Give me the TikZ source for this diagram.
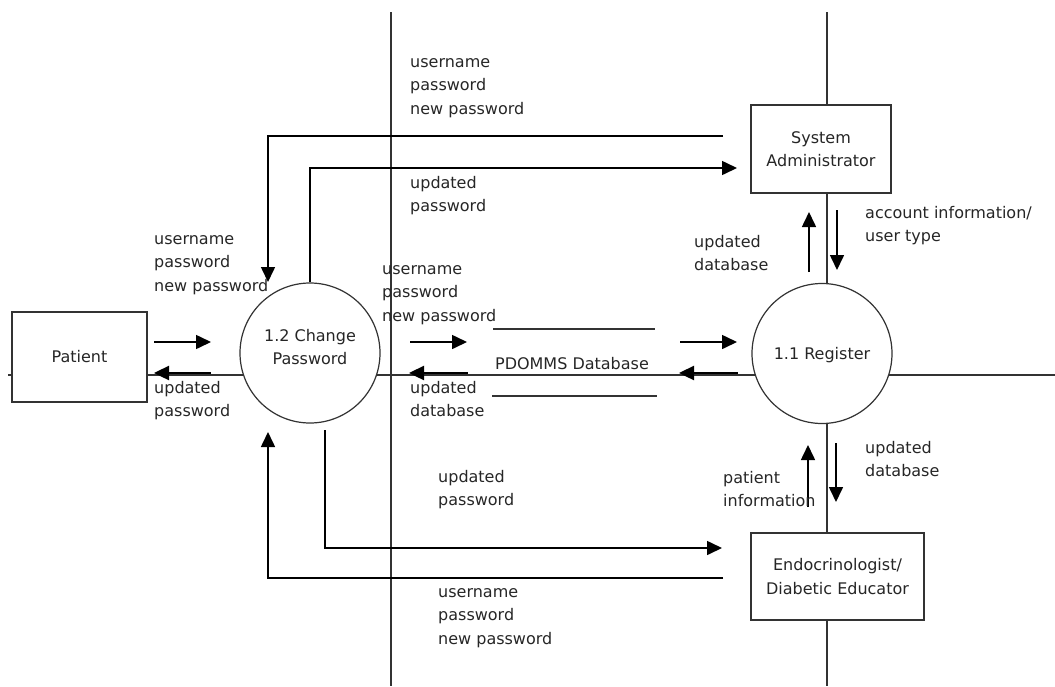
\documentclass[tikz,border=0pt]{standalone}
\usepackage{fontspec}
\setmainfont{DejaVu Sans}
\usetikzlibrary{arrows.meta}
\tikzset{
  frame/.style={line width=1.4pt, draw=black!80},
  ent/.style={draw=black!80, line width=1.4pt, fill=white, rectangle, align=center, inner sep=0pt,
              font=\fontsize{16}{23.5}\selectfont, text=black!85},
  proc/.style={draw=black!80, line width=1.2pt, fill=white, circle, minimum size=140pt, inner sep=0pt},
  lab/.style={font=\fontsize{16}{23.5}\selectfont, align=left, inner sep=0pt, anchor=north west,
              text=black!85, execute at begin node=\strut},
  txt/.style={font=\fontsize{16}{23.5}\selectfont, align=center, inner sep=0pt, text=black!85},
  flow/.style={line width=1.6pt, draw=black, -{Triangle[length=15pt,width=14pt]}},
  flowb/.style={line width=2.4pt, draw=black, -{Triangle[length=15pt,width=14pt]}},
}
\begin{document}
\begin{tikzpicture}[x=1pt,y=-1pt]
\useasboundingbox (0,0) rectangle (1055,686);
% background frame lines
\draw[frame] (391,12) -- (391,686);
\draw[frame] (827,12) -- (827,686);
\draw[frame] (8,375) -- (1055,375);

% nodes
\node[ent, minimum width=135pt, minimum height=90pt] (pat) at (79.5,357) {Patient};
\node[ent, minimum width=140pt, minimum height=88pt] (sa) at (821,149) {System\\Administrator};
\node[ent, minimum width=173pt, minimum height=87pt] (ed) at (837.5,576.5) {Endocrinologist/\\Diabetic Educator};
\node[proc] (cp) at (310,353) {};
\node[txt] (cpt) at (310,347) {1.2 Change\\Password};
\node[proc] (reg) at (822,353.5) {};
\node[txt] (regt) at (822,355) {1.1 Register};

% data store
\coordinate (ds1a) at (493,329); \coordinate (ds1b) at (655,329);
\coordinate (ds2a) at (492,396); \coordinate (ds2b) at (657,396);
\draw[frame] (ds1a) -- (ds1b);
\draw[frame] (ds2a) -- (ds2b);
\node[txt] (dst) at (572,364) {PDOMMS Database};

% coordinates for free ends
\coordinate (a1s) at (723,136); \coordinate (a1e) at (268,282);
\coordinate (a2e) at (737,168);
\coordinate (a3s) at (325,430); \coordinate (a3e) at (722,548);
\coordinate (a4s) at (723,578); \coordinate (a4e) at (268,432);
\coordinate (p1s) at (154,342); \coordinate (p1e) at (211,342);
\coordinate (p2s) at (211,373); \coordinate (p2e) at (154,373);
\coordinate (m1s) at (410,342); \coordinate (m1e) at (467,342);
\coordinate (m2s) at (468,373); \coordinate (m2e) at (409,373);
\coordinate (r1s) at (680,342); \coordinate (r1e) at (737,342);
\coordinate (r2s) at (738,373); \coordinate (r2e) at (679,373);
\coordinate (v1s) at (809,272); \coordinate (v1e) at (809,212);
\coordinate (v2s) at (837,210); \coordinate (v2e) at (837,270);
\coordinate (v3s) at (808,507); \coordinate (v3e) at (808,445);
\coordinate (v4s) at (836,443); \coordinate (v4e) at (836,502);

% flows
\draw[flow] (a1s) -| (a1e);
\draw[flow] (cp.north) |- (a2e);
\draw[flow] (a3s) |- (a3e);
\draw[flow] (a4s) -| (a4e);
\draw[flow] (p1s) -- (p1e);
\draw[flowb] (p2s) -- (p2e);
\draw[flow] (m1s) -- (m1e);
\draw[flowb] (m2s) -- (m2e);
\draw[flow] (r1s) -- (r1e);
\draw[flowb] (r2s) -- (r2e);
\draw[flow] (v1s) -- (v1e);
\draw[flow] (v2s) -- (v2e);
\draw[flow] (v3s) -- (v3e);
\draw[flow] (v4s) -- (v4e);

% labels
\node[lab] (l1) at (410,58) {username\\password\\new password};
\node[lab] (l2) at (410,176) {updated\\password};
\node[lab] (l3) at (154,235) {username\\password\\new password};
\node[lab] (l4) at (154,381) {updated\\password};
\node[lab] (l5) at (382,265) {username\\password\\new password};
\node[lab] (l6) at (410,381) {updated\\database};
\node[lab] (l7) at (694,235) {updated\\database};
\node[lab] (l8) at (865,206) {account information/\\user type};
\node[lab] (l9) at (723,471) {patient\\information};
\node[lab] (l10) at (865,441) {updated\\database};
\node[lab] (l11) at (438,470) {updated\\password};
\node[lab] (l12) at (438,588) {username\\password\\new password};
\end{tikzpicture}
\end{document}
